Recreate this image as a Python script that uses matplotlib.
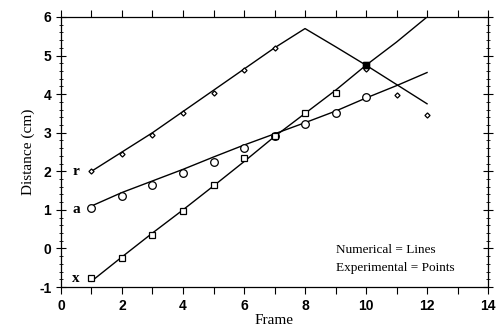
import matplotlib
matplotlib.use("Agg")
import matplotlib.pyplot as plt
from matplotlib.ticker import MultipleLocator

# dados
frames_line = [1, 2, 3, 4, 5, 6, 7, 8, 9, 10, 11, 12]
r_line = [2.0, 2.5, 3.0, 3.55, 4.1, 4.65, 5.2, 5.7, 5.23, 4.75, 4.25, 3.75]
a_line = [1.1, 1.45, 1.75, 2.05, 2.37, 2.68, 2.97, 3.26, 3.56, 3.9, 4.22, 4.56]
x_line = [-0.85, -0.22, 0.4, 1.0, 1.62, 2.25, 2.9, 3.5, 4.1, 4.75, 5.35, 6.0]

r_frames = [1, 2, 3, 4, 5, 6, 7, 10, 11, 12]
r_pts = [2.0, 2.45, 2.94, 3.51, 4.03, 4.63, 5.19, 4.65, 3.98, 3.46]
a_frames = [1, 2, 3, 4, 5, 6, 7, 8, 9, 10]
a_pts = [1.05, 1.35, 1.65, 1.95, 2.25, 2.6, 2.92, 3.23, 3.5, 3.92]
x_frames = [1, 2, 3, 4, 5, 6, 7, 8, 9, 10]
x_pts = [-0.77, -0.25, 0.35, 0.97, 1.65, 2.34, 2.92, 3.52, 4.04, 4.76]

serif = "Liberation Serif"
sans = "Liberation Sans"
plt.rcParams["axes.unicode_minus"] = False

fig = plt.figure(figsize=(4.97, 3.30), dpi=100)
ax = fig.add_axes([0.1227, 0.1303, 0.8593, 0.8182])

ax.plot(frames_line, r_line, color="black", lw=1.0)
ax.plot(frames_line, a_line, color="black", lw=1.0)
ax.plot(frames_line, x_line, color="black", lw=1.0)

ax.plot(r_frames, r_pts, "D", ms=2.6, mfc="white", mec="black", mew=0.9, ls="none")
ax.plot(a_frames, a_pts, "o", ms=5.5, mfc="white", mec="black", mew=0.9, ls="none")
ax.plot(x_frames, x_pts, "s", ms=4.5, mfc="white", mec="black", mew=0.9, ls="none")
ax.plot([10], [4.76], "s", ms=4.5, mfc="black", mec="black", ls="none")

# rótulos das curvas
ax.text(0.5, 2.0, "r", fontfamily=serif, fontweight="bold", fontsize=11, va="center", ha="center")
ax.text(0.5, 1.02, "a", fontfamily=serif, fontweight="bold", fontsize=11, va="center", ha="center")
ax.text(0.5, -0.78, "x", fontfamily=serif, fontweight="bold", fontsize=11, va="center", ha="center")

ax.text(9.0, -0.05, "Numerical = Lines", fontfamily=serif, fontsize=9.5, va="center")
ax.text(9.0, -0.52, "Experimental = Points", fontfamily=serif, fontsize=9.5, va="center")

ax.set_xlim(0, 14)
ax.set_ylim(-1, 6)
ax.xaxis.set_major_locator(MultipleLocator(2))
ax.xaxis.set_minor_locator(MultipleLocator(1))
ax.yaxis.set_major_locator(MultipleLocator(1))
ax.yaxis.set_minor_locator(MultipleLocator(0.2))

ax.tick_params(axis="x", which="both", direction="out", top=True, length=5, width=0.8)
ax.tick_params(axis="y", which="major", direction="inout", right=True, length=7, width=0.8)
ax.tick_params(axis="y", which="minor", direction="inout", right=True, length=3, width=0.6)

for lab in ax.get_xticklabels() + ax.get_yticklabels():
    lab.set_fontfamily(sans)
    lab.set_fontsize(10)
    lab.set_fontweight("bold")

for s in ax.spines.values():
    s.set_linewidth(0.9)

ax.set_xlabel("Frame", fontfamily=serif, fontsize=11, labelpad=1)
ax.set_ylabel("Distance (cm)", fontfamily=serif, fontsize=11, labelpad=3)

fig.savefig("out.png", dpi=100)
